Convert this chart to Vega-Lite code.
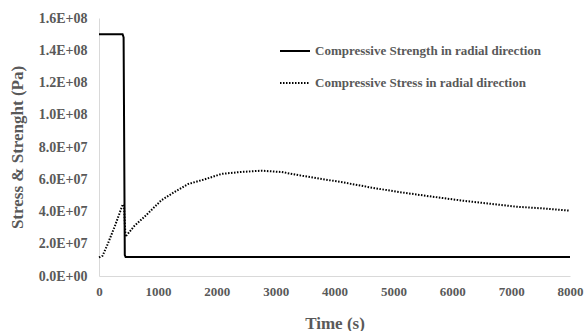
{
  "$schema": "https://vega.github.io/schema/vega-lite/v6.json",
  "autosize": {"type": "none"},
  "width": 471,
  "height": 258,
  "padding": {"left": 99, "top": 18, "right": 15, "bottom": 55},
  "background": "white",
  "config": {
    "view": {"stroke": null},
    "font": "Liberation Serif",
    "axis": {
      "labelFont": "Liberation Serif",
      "labelFontWeight": "bold",
      "labelColor": "#595959",
      "labelFontSize": 13,
      "titleFont": "Liberation Serif",
      "titleFontWeight": "bold",
      "titleColor": "#595959",
      "titleFontSize": 17,
      "domainColor": "#d9d9d9",
      "domainWidth": 1,
      "ticks": false,
      "grid": false
    }
  },
  "data": {
    "values": [
      {"t": 0, "v": 150000000, "s": "Compressive Strength in radial direction"},
      {"t": 400, "v": 150000000, "s": "Compressive Strength in radial direction"},
      {"t": 418, "v": 148000000, "s": "Compressive Strength in radial direction"},
      {"t": 438, "v": 13000000, "s": "Compressive Strength in radial direction"},
      {"t": 452, "v": 11800000, "s": "Compressive Strength in radial direction"},
      {"t": 8000, "v": 11800000, "s": "Compressive Strength in radial direction"},
      {"t": 0, "v": 11500000, "s": "Compressive Stress in radial direction"},
      {"t": 60, "v": 12500000, "s": "Compressive Stress in radial direction"},
      {"t": 150, "v": 20000000, "s": "Compressive Stress in radial direction"},
      {"t": 270, "v": 31000000, "s": "Compressive Stress in radial direction"},
      {"t": 350, "v": 39000000, "s": "Compressive Stress in radial direction"},
      {"t": 405, "v": 44500000, "s": "Compressive Stress in radial direction"},
      {"t": 425, "v": 43000000, "s": "Compressive Stress in radial direction"},
      {"t": 450, "v": 24400000, "s": "Compressive Stress in radial direction"},
      {"t": 600, "v": 31000000, "s": "Compressive Stress in radial direction"},
      {"t": 780, "v": 37000000, "s": "Compressive Stress in radial direction"},
      {"t": 1060, "v": 47000000, "s": "Compressive Stress in radial direction"},
      {"t": 1300, "v": 52500000, "s": "Compressive Stress in radial direction"},
      {"t": 1510, "v": 57000000, "s": "Compressive Stress in radial direction"},
      {"t": 1800, "v": 60000000, "s": "Compressive Stress in radial direction"},
      {"t": 2080, "v": 63300000, "s": "Compressive Stress in radial direction"},
      {"t": 2400, "v": 64500000, "s": "Compressive Stress in radial direction"},
      {"t": 2760, "v": 65300000, "s": "Compressive Stress in radial direction"},
      {"t": 3100, "v": 64500000, "s": "Compressive Stress in radial direction"},
      {"t": 3440, "v": 62200000, "s": "Compressive Stress in radial direction"},
      {"t": 3900, "v": 59500000, "s": "Compressive Stress in radial direction"},
      {"t": 4140, "v": 58100000, "s": "Compressive Stress in radial direction"},
      {"t": 4600, "v": 55000000, "s": "Compressive Stress in radial direction"},
      {"t": 5050, "v": 52300000, "s": "Compressive Stress in radial direction"},
      {"t": 5600, "v": 49500000, "s": "Compressive Stress in radial direction"},
      {"t": 6180, "v": 46700000, "s": "Compressive Stress in radial direction"},
      {"t": 6600, "v": 45000000, "s": "Compressive Stress in radial direction"},
      {"t": 7080, "v": 43000000, "s": "Compressive Stress in radial direction"},
      {"t": 7500, "v": 42000000, "s": "Compressive Stress in radial direction"},
      {"t": 8000, "v": 40500000, "s": "Compressive Stress in radial direction"}
    ]
  },
  "mark": {"type": "line", "strokeWidth": 2, "interpolate": "linear"},
  "encoding": {
    "x": {
      "field": "t", "type": "quantitative",
      "scale": {"domain": [0, 8000], "nice": false},
      "axis": {"values": [0,1000,2000,3000,4000,5000,6000,7000,8000], "format": "d", "labelPadding": 9, "title": "Time (s)", "titleY": 47, "titleBaseline": "middle", "labelFlush": false}
    },
    "y": {
      "field": "v", "type": "quantitative",
      "scale": {"domain": [0, 160000000], "nice": false},
      "axis": {
        "values": [0,20000000,40000000,60000000,80000000,100000000,120000000,140000000,160000000],
        "labelExpr": "replace(format(datum.value, '.1e'), 'e+', 'E+0')",
        "labelFontSize": 14,
        "labelPadding": 12,
        "title": "Stress & Strenght (Pa)",
        "titleX": -82, "titleY": 129, "titleAlign": "center", "titleBaseline": "middle", "titleAngle": -90
      }
    },
    "color": {"field": "s", "type": "nominal", "scale": {"range": ["#000000", "#000000"]}, "legend": null},
    "strokeDash": {
      "field": "s", "type": "nominal",
      "scale": {"domain": ["Compressive Strength in radial direction", "Compressive Stress in radial direction"], "range": [[1, 0], [1.5, 1.5]]},
      "legend": {
        "title": null,
        "orient": "none",
        "legendX": 180,
        "legendY": 17,
        "symbolType": "stroke",
        "symbolSize": 900,
        "symbolStrokeWidth": 2,
        "symbolStrokeColor": "#000000",
        "labelFont": "Liberation Serif",
        "labelFontWeight": "bold",
        "labelFontSize": 13,
        "labelColor": "#595959",
        "labelOffset": 4,
        "rowPadding": 9,
        "labelLimit": 400
      }
    }
  }
}
